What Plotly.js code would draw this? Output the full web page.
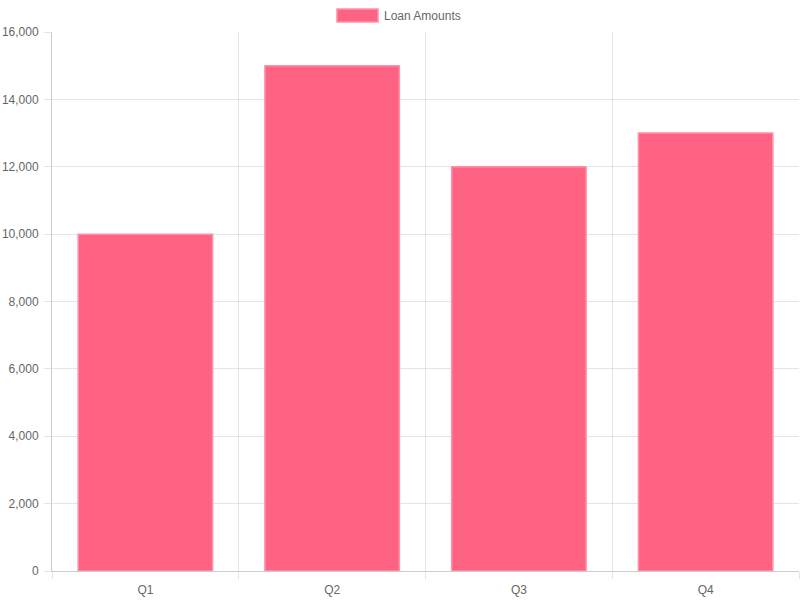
<!DOCTYPE html>
<html>
<head>
<meta charset="utf-8">
<script src="https://cdn.plot.ly/plotly-3.0.1.min.js"></script>
<style>html,body{margin:0;padding:0;background:#fff;}#chart{width:800px;height:600px;}</style>
</head>
<body>
<div id="chart"></div>
<script>
const categories = ['Q1', 'Q2', 'Q3', 'Q4'];
const loanAmounts = [10000, 15000, 12000, 13000];
const seriesName = 'Loan Amounts';

const font = {family: 'Liberation Sans, Arial, Helvetica, sans-serif', size: 12, color: '#666'};
const gridColor = 'rgba(0,0,0,0.1)';

const trace = {
  type: 'bar',
  x: categories,
  y: loanAmounts,
  name: seriesName,
  marker: {color: '#ff6384', line: {color: '#ff91a8', width: 1.5}},
  hoverinfo: 'x+y'
};

const L = 52, R = 1, T = 32, B = 29, W = 800, H = 600;
const pw = W - L - R, ph = H - T - B;
const px = v => (v - L) / pw;
const py = v => (H - B - v) / ph;

const layout = {
  width: W, height: H,
  margin: {l: L, r: R, t: T, b: B, pad: 0},
  paper_bgcolor: '#fff', plot_bgcolor: '#fff',
  font: font,
  showlegend: false,
  bargap: 0.28,
  xaxis: {
    type: 'category',
    tickson: 'boundaries',
    ticks: 'outside', ticklen: 7, tickcolor: gridColor,
    showgrid: true, gridcolor: gridColor, gridwidth: 1,
    showline: true, linecolor: '#cccccc', linewidth: 1,
    zeroline: false, tickfont: font, ticklabelstandoff: 8, fixedrange: true
  },
  yaxis: {
    range: [0, 16000], dtick: 2000, tick0: 0,
    tickformat: ',d',
    ticks: 'outside', ticklen: 7, tickcolor: gridColor,
    showgrid: true, gridcolor: gridColor, gridwidth: 1,
    showline: true, linecolor: '#cccccc', linewidth: 1,
    zeroline: false, tickfont: font, ticklabelstandoff: 3, fixedrange: true
  },
  shapes: [{
    type: 'rect', xref: 'paper', yref: 'paper',
    x0: px(337), x1: px(378), y0: py(22), y1: py(9),
    fillcolor: '#ff6384', line: {color: '#ff91a8', width: 1.5}
  }],
  annotations: [{
    xref: 'paper', yref: 'paper', x: px(382), y: py(16),
    xanchor: 'left', yanchor: 'middle', showarrow: false,
    text: seriesName, font: font
  }]
};

Plotly.newPlot('chart', [trace], layout, {displayModeBar: false, staticPlot: false});
</script>
</body>
</html>
